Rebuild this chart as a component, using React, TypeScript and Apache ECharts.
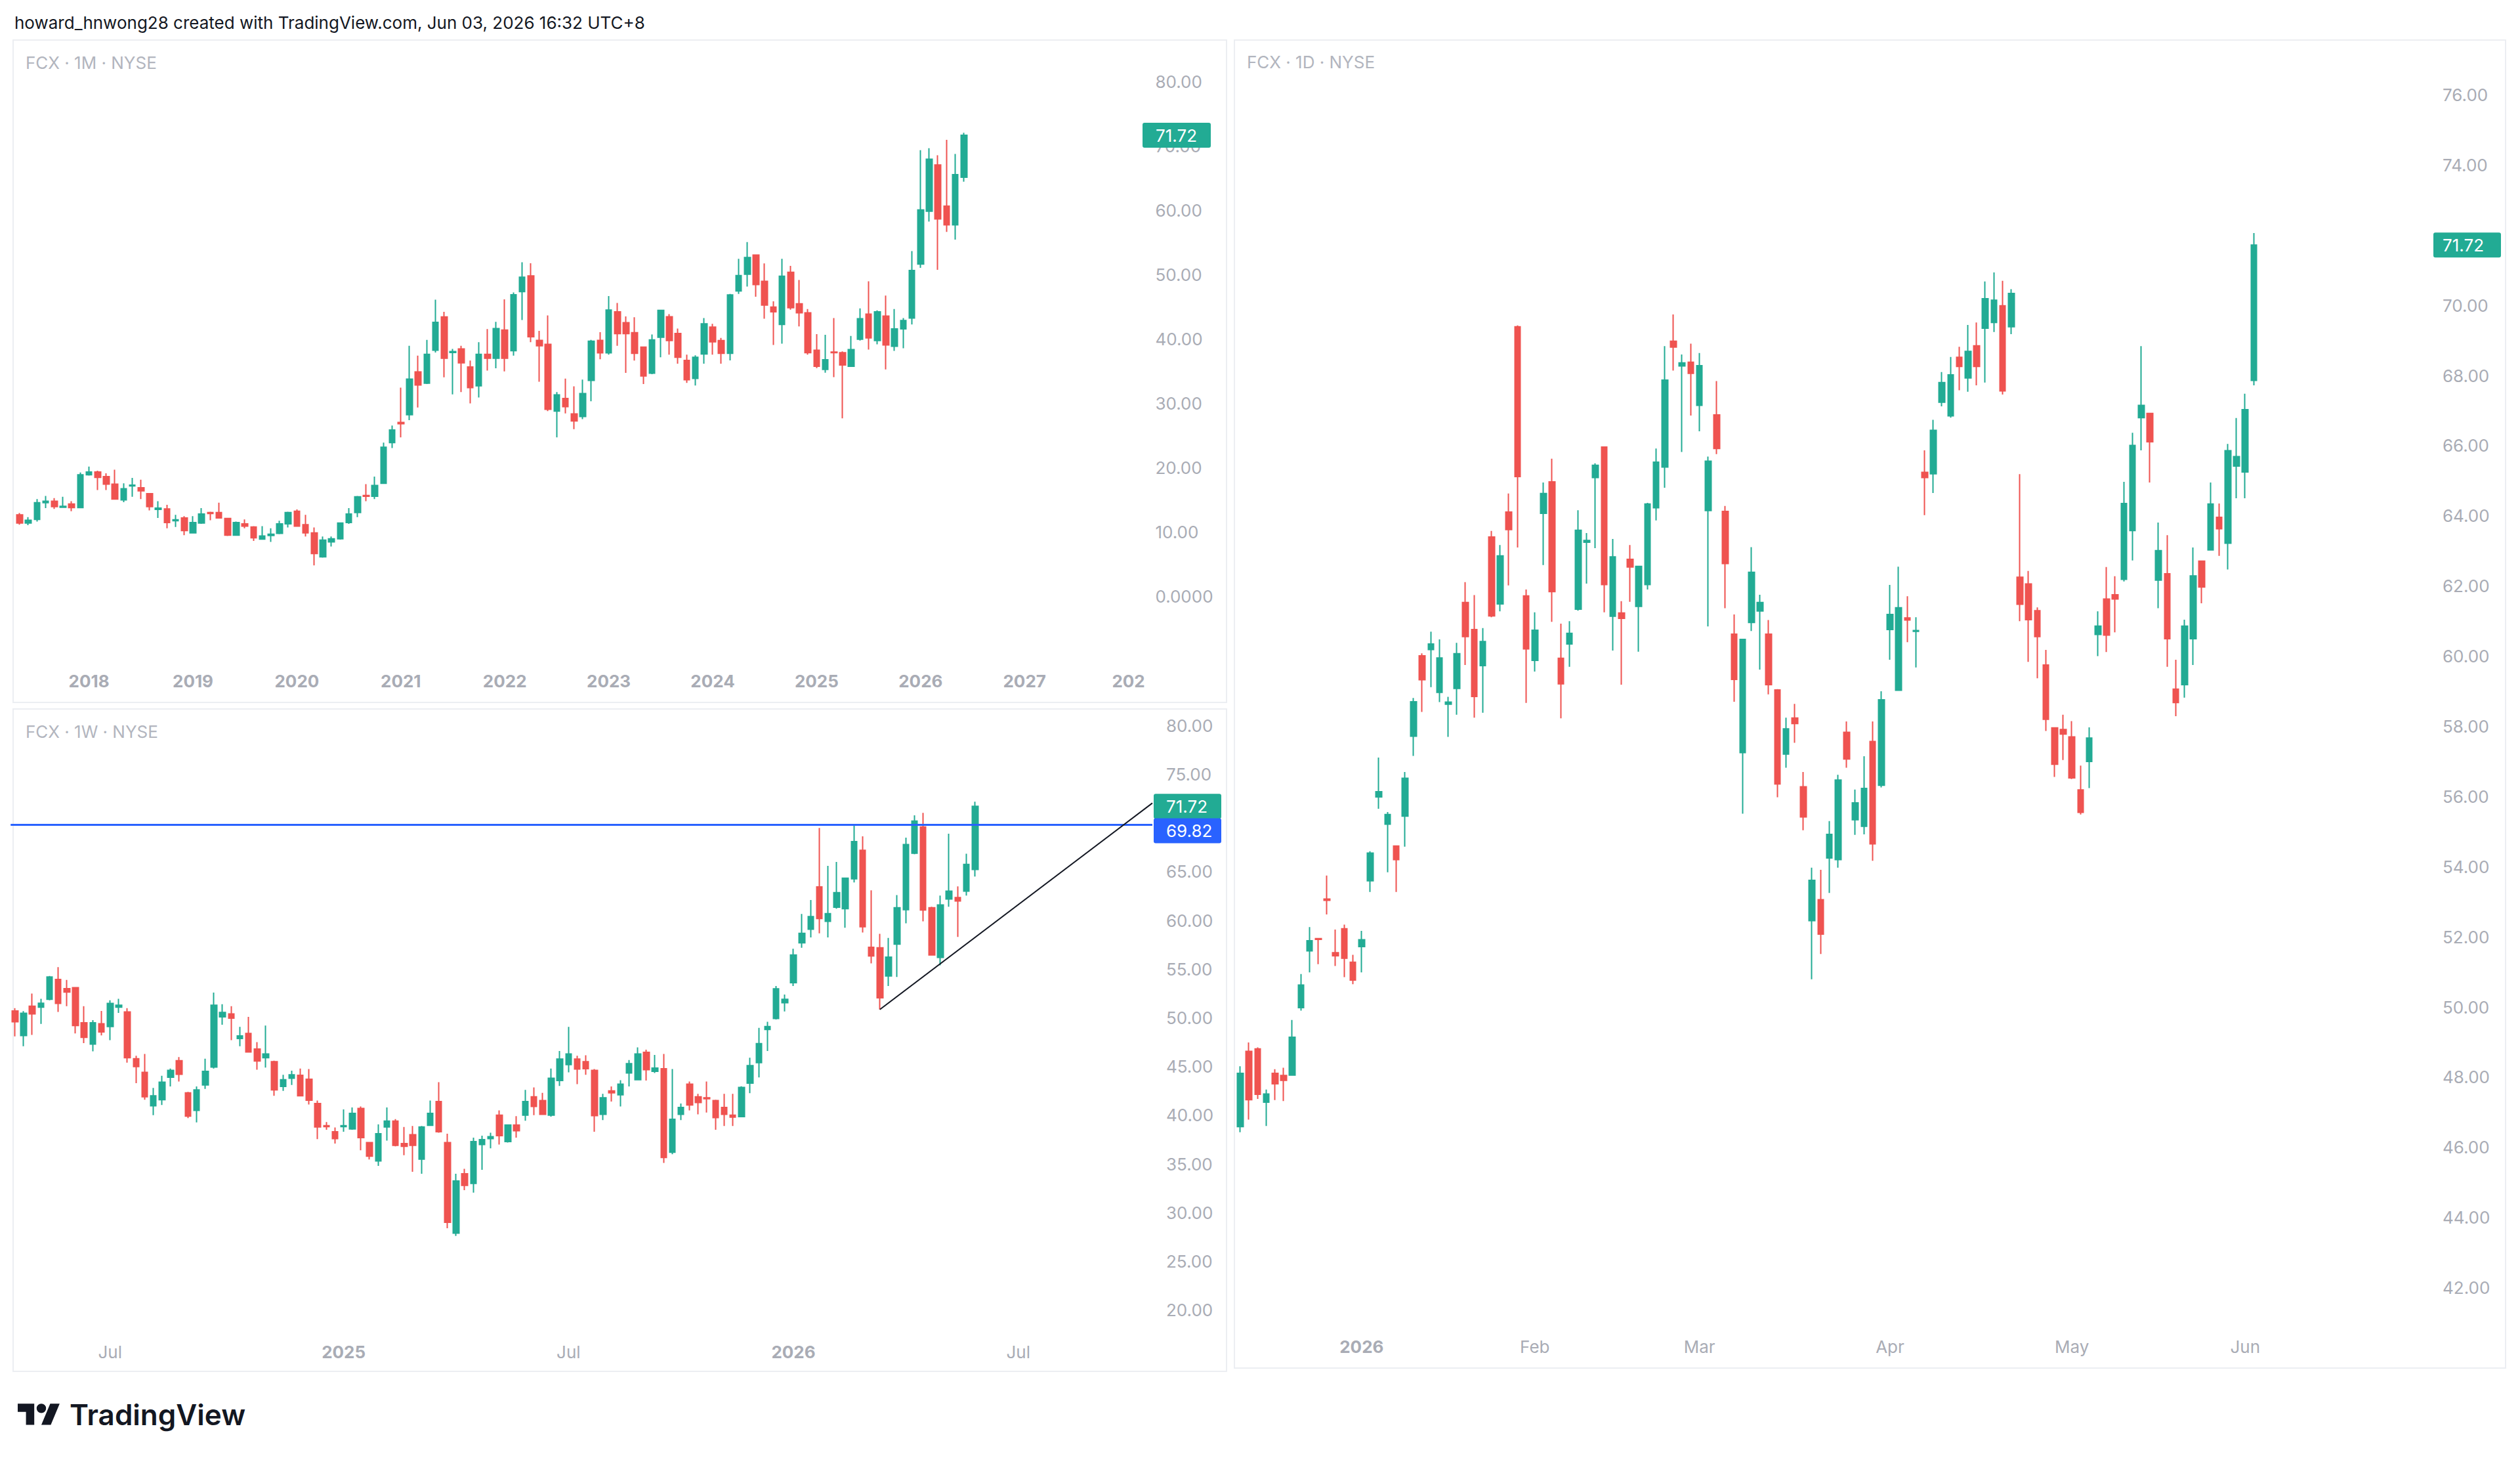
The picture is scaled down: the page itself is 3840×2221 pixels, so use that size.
import React, { useEffect, useRef } from "react";
import * as echarts from "echarts";

// ---------- DATA ----------
// candles: [open, close, low, high]
const monthlyCandles = [
  [12.69, 11.43, 11.15, 12.97], [11.43, 11.85, 11.08, 12.34], [11.99, 14.59, 11.64, 15.15], [14.59, 14.8, 13.74, 15.64],
  [14.8, 13.96, 13.6, 15.29], [13.88, 14.03, 13.85, 15.5], [14.38, 13.81, 13.25, 14.8], [13.81, 18.93, 13.75, 19.28],
  [18.93, 19.35, 18.79, 20.2], [19.35, 18.51, 16.55, 19.57], [18.65, 17.46, 16.55, 19.14], [17.46, 15.15, 15.1, 19.71],
  [15.01, 16.76, 14.66, 17.6], [17.18, 17.32, 15.5, 18.44], [16.9, 16.41, 15.15, 18.16], [15.99, 13.96, 13.39, 16.05],
  [13.53, 13.74, 12.2, 14.8], [13.6, 11.5, 10.59, 14.24], [11.78, 11.92, 10.8, 12.69], [12.2, 10.24, 9.54, 12.48],
  [9.89, 11.5, 9.82, 12.48], [11.43, 12.83, 11.29, 13.74], [13.04, 12.9, 11.85, 13.18], [13.04, 12.2, 12.15, 14.59],
  [12.13, 9.54, 9.4, 12.2], [9.54, 11.5, 9.5, 11.64], [11.29, 10.94, 10.59, 11.99], [10.8, 9.12, 8.63, 10.94],
  [8.91, 9.4, 8.84, 10.94], [9.47, 9.68, 8.49, 10.59], [9.82, 11.29, 9.68, 11.78], [11.29, 13.04, 10.73, 13.18],
  [13.25, 10.94, 10.87, 13.53], [11.15, 9.89, 9.33, 12.69], [9.89, 6.66, 4.84, 10.73], [6.17, 8.77, 6.03, 9.33],
  [8.49, 8.98, 7.78, 9.33], [8.98, 11.43, 8.84, 11.5], [11.5, 12.83, 11.29, 13.74], [13.04, 15.5, 12.34, 15.64],
  [15.71, 15.57, 14.8, 17.46], [15.57, 17.25, 15.15, 18.65], [17.6, 23.21, 17.53, 23.91], [23.91, 25.88, 23.07, 26.58],
  [27.07, 26.86, 24.75, 32.47], [28.26, 33.8, 27.42, 38.99], [34.92, 32.89, 29.38, 37.45], [33.17, 37.66, 33.03, 39.9],
  [38.29, 42.64, 37.94, 46.14], [43.48, 37.03, 34.08, 44.25], [37.94, 38.08, 31.42, 38.5], [38.5, 36.33, 31.77, 38.99],
  [35.69, 32.47, 30.01, 36.68], [32.75, 37.66, 30.93, 39.55], [37.66, 37.03, 35.13, 41.58], [37.03, 41.65, 35.48, 42.71],
  [41.44, 37.03, 34.99, 46.21], [38.22, 46.91, 37.45, 47.27], [47.41, 49.65, 42.99, 51.96], [49.86, 40.39, 39.55, 51.82],
  [39.83, 38.99, 33.38, 41.3], [39.2, 29.1, 28.82, 43.69], [28.82, 31.35, 24.75, 31.77], [30.79, 29.52, 28.47, 33.87],
  [28.4, 27.28, 26.02, 32.68], [27.98, 31.56, 27.56, 33.73], [33.59, 39.69, 30.36, 39.9], [39.83, 37.87, 36.89, 41.09],
  [37.87, 44.53, 37.59, 46.7], [44.25, 40.88, 38.99, 45.65], [42.57, 40.88, 34.78, 43.55], [41.02, 37.8, 36.68, 43.41],
  [38.78, 34.29, 33.03, 38.85], [34.71, 39.9, 34.57, 40.74], [40.3, 44.5, 37.2, 44.6], [43.5, 39.8, 37.6, 43.9],
  [40.9, 37.2, 36.2, 41.65], [36.7, 33.7, 33.2, 37.6], [33.9, 37.2, 32.8, 37.5], [37.7, 42.4, 36.2, 43.3],
  [41.9, 39.6, 37.6, 42.4], [39.8, 37.8, 36.2, 40.2], [37.8, 46.9, 36.7, 47.05], [47.5, 49.9, 47.05, 52.5],
  [50.1, 52.7, 48.2, 55.1], [53.1, 48.5, 46.6, 53.1], [49.0, 45.3, 43.2, 51.8], [45.0, 44.25, 39.1, 45.9],
  [42.3, 49.8, 39.3, 52.5], [50.4, 44.9, 44.6, 51.4], [45.5, 44.1, 42.0, 49.2], [44.1, 37.9, 37.6, 44.7],
  [38.3, 35.8, 35.5, 40.8], [35.3, 36.8, 34.8, 40.7], [38.0, 37.9, 34.1, 43.3], [37.9, 36.0, 27.7, 38.1],
  [35.8, 38.4, 35.8, 40.5], [40.0, 43.2, 39.8, 44.8], [43.9, 40.2, 38.4, 49.0], [39.8, 44.25, 39.2, 44.5],
  [43.6, 39.1, 35.3, 46.8], [38.9, 41.6, 38.2, 44.7], [41.6, 42.9, 38.6, 43.3], [43.3, 50.7, 42.3, 53.7],
  [51.7, 60.1, 51.1, 69.4], [59.9, 68.0, 58.3, 69.7], [67.1, 58.7, 50.8, 68.6], [60.7, 57.8, 56.7, 71.0],
  [57.8, 65.6, 55.5, 68.8], [65.2, 71.72, 64.5, 72.1],
];

const weeklyCandles = [
  [50.7, 49.6, 48.1, 51.0], [48.18, 50.48, 47.08, 50.69], [51.2, 50.4, 48.25, 52.5], [51.1, 51.5, 49.38, 51.96],
  [51.9, 54.2, 51.8, 54.3], [53.95, 51.48, 50.6, 55.2], [53.0, 52.65, 51.2, 53.9], [53.1, 49.2, 48.4, 53.1],
  [49.5, 48.0, 47.4, 51.2], [47.3, 49.5, 46.56, 49.76], [49.4, 48.55, 48.2, 50.7], [49.1, 51.48, 47.7, 51.8],
  [51.1, 51.3, 50.5, 51.96], [50.6, 45.9, 45.4, 51.0], [45.8, 45.0, 43.3, 46.1], [44.4, 41.9, 41.6, 46.3],
  [40.96, 41.99, 40.0, 42.8], [41.6, 43.4, 41.06, 44.05], [43.9, 44.6, 42.95, 44.8], [45.6, 44.2, 43.46, 45.98],
  [42.3, 39.9, 39.7, 42.4], [40.5, 42.6, 39.27, 42.95], [43.1, 44.5, 42.7, 45.8], [44.95, 51.3, 44.8, 52.6],
  [50.1, 50.55, 49.3, 51.4], [50.4, 49.97, 47.7, 51.2], [47.87, 48.14, 47.08, 49.07], [48.4, 46.5, 46.46, 50.1],
  [46.8, 45.56, 44.67, 47.5], [45.9, 46.3, 44.9, 49.2], [45.5, 42.6, 41.99, 45.6], [42.95, 43.64, 42.5, 44.15],
  [43.8, 44.15, 43.1, 44.57], [44.1, 42.0, 41.95, 44.8], [43.7, 41.54, 41.1, 44.74], [41.2, 38.8, 37.55, 41.5],
  [38.93, 38.82, 38.5, 39.3], [38.3, 37.6, 37.1, 38.75], [38.82, 38.93, 38.3, 40.6], [38.6, 40.2, 38.5, 40.8],
  [40.7, 37.7, 36.4, 40.9], [37.2, 35.8, 35.45, 37.2], [35.3, 38.1, 34.8, 39.06], [38.8, 39.4, 37.4, 40.8],
  [39.4, 36.9, 36.8, 39.6], [37.1, 36.8, 35.9, 38.8], [38.0, 36.9, 34.2, 38.9], [35.5, 38.8, 34.0, 38.9],
  [38.96, 40.2, 38.9, 41.5], [41.4, 38.3, 38.2, 43.4], [37.2, 29.0, 28.4, 38.1], [27.9, 33.25, 27.6, 34.0],
  [34.0, 32.8, 32.3, 34.5], [33.0, 37.3, 32.05, 37.7], [37.0, 37.5, 34.4, 37.9], [37.6, 37.8, 36.6, 38.2],
  [40.0, 37.9, 37.0, 40.5], [37.3, 39.0, 37.2, 39.0], [39.0, 38.4, 37.7, 39.9], [40.0, 41.4, 39.44, 42.6],
  [41.9, 40.9, 40.0, 42.85], [41.5, 40.1, 40.1, 42.3], [40.0, 43.8, 39.86, 44.8], [43.57, 45.77, 43.0, 46.6],
  [45.2, 46.3, 44.4, 49.07], [45.77, 44.74, 43.2, 46.1], [45.5, 44.77, 44.15, 46.15], [44.6, 39.96, 38.3, 44.74],
  [40.1, 41.8, 39.5, 42.2], [42.5, 42.3, 41.4, 42.95], [42.1, 43.2, 40.9, 43.6], [44.33, 45.3, 42.95, 45.67],
  [43.64, 46.3, 43.64, 46.97], [46.46, 44.67, 43.57, 46.73], [44.5, 44.84, 44.33, 46.2], [44.77, 35.66, 35.1, 46.3],
  [36.2, 39.58, 36.0, 44.74], [40.1, 40.8, 39.5, 41.2], [43.2, 41.06, 40.5, 43.46], [41.9, 41.3, 40.1, 42.2],
  [41.8, 41.7, 40.27, 43.46], [41.5, 39.75, 38.5, 41.6], [40.8, 40.1, 38.9, 42.2], [40.0, 39.8, 38.9, 42.2],
  [39.86, 42.85, 39.8, 42.98], [43.3, 45.1, 42.26, 45.9], [45.4, 47.35, 43.88, 48.97], [48.8, 49.1, 46.6, 49.6],
  [49.93, 52.99, 49.83, 53.27], [51.55, 51.9, 50.65, 52.4], [53.6, 56.46, 53.27, 57.1], [57.7, 58.67, 57.2, 60.66],
  [59.1, 60.4, 58.25, 62.1], [63.45, 60.2, 58.67, 69.5], [59.9, 60.7, 58.25, 65.6], [61.35, 62.86, 61.2, 66.0],
  [61.2, 64.34, 59.25, 64.34], [64.27, 68.1, 63.9, 69.77], [67.2, 59.35, 58.77, 68.64], [57.25, 56.36, 55.6, 63.1],
  [57.19, 52.06, 50.86, 58.63], [54.3, 56.23, 53.27, 58.2], [57.56, 61.3, 54.2, 62.6], [61.1, 67.8, 59.7, 68.5],
  [66.9, 70.2, 66.8, 70.8], [69.6, 61.07, 59.9, 71.05], [61.3, 56.46, 56.46, 61.4], [56.2, 61.6, 55.4, 62.55],
  [62.2, 63.0, 61.4, 68.9], [62.35, 62.0, 58.3, 63.5], [63.0, 65.75, 62.55, 66.85], [65.23, 71.72, 64.5, 72.2],
];

const dailyCandles = [
  [46.59, 48.11, 46.43, 48.31], [48.74, 47.36, 46.79, 48.99], [48.81, 47.51, 47.38, 48.85], [47.29, 47.52, 46.61, 47.65],
  [48.11, 47.81, 47.35, 48.23], [48.05, 47.91, 47.32, 48.27], [48.06, 49.14, 48.06, 49.63], [49.98, 50.63, 49.9, 50.94],
  [51.6, 51.89, 50.99, 52.28], [51.95, 51.93, 51.22, 51.95], [53.08, 53.04, 52.64, 53.75], [51.55, 51.46, 51.17, 52.21],
  [52.23, 51.39, 50.85, 52.35], [51.28, 50.77, 50.65, 51.49], [51.72, 51.92, 50.99, 52.17], [53.6, 54.39, 53.28, 54.44],
  [55.99, 56.14, 55.65, 57.11], [55.21, 55.49, 53.84, 55.56], [54.59, 54.2, 53.28, 54.59], [55.44, 56.52, 54.57, 56.7],
  [57.72, 58.7, 57.16, 58.81], [60.01, 59.33, 58.41, 60.08], [60.19, 60.35, 59.12, 60.7], [58.97, 59.95, 58.69, 60.48],
  [58.63, 58.69, 57.7, 58.84], [59.08, 60.07, 58.33, 60.38], [61.53, 60.56, 59.75, 62.11], [60.76, 58.85, 58.25, 61.74],
  [59.73, 60.42, 58.39, 60.8], [63.4, 61.15, 61.11, 63.57], [61.49, 62.86, 61.28, 63.17], [64.11, 63.61, 62.02, 64.64],
  [69.39, 65.12, 63.1, 69.43], [61.72, 60.21, 58.67, 61.9], [59.88, 60.74, 59.56, 61.25], [64.07, 64.64, 62.6, 64.95],
  [64.97, 61.84, 60.98, 65.63], [59.94, 59.21, 58.23, 60.93], [60.35, 60.65, 59.7, 61.0], [61.34, 63.59, 61.3, 64.16],
  [63.25, 63.3, 62.07, 63.51], [65.09, 65.44, 63.08, 65.5], [65.96, 62.04, 61.25, 65.98], [61.14, 62.83, 60.16, 63.34],
  [61.23, 61.08, 59.19, 61.57], [62.76, 62.54, 61.55, 63.17], [61.42, 62.56, 60.13, 62.56], [62.04, 64.34, 61.9, 64.37],
  [64.23, 65.53, 63.87, 65.92], [65.39, 67.87, 64.8, 68.84], [68.98, 68.81, 68.14, 69.74], [68.27, 68.36, 65.82, 68.6],
  [68.38, 68.06, 66.86, 68.91], [67.15, 68.28, 66.41, 68.64], [64.15, 65.56, 60.85, 65.69], [66.88, 65.92, 65.76, 67.84],
  [64.13, 62.64, 61.37, 64.28], [60.63, 59.34, 58.7, 61.19], [57.25, 60.48, 55.51, 60.48], [60.96, 62.39, 60.72, 63.11],
  [61.29, 61.53, 59.62, 61.75], [60.63, 59.19, 58.91, 61.03], [59.04, 56.36, 55.98, 59.06], [57.21, 57.93, 56.82, 58.25],
  [58.24, 58.08, 57.53, 58.64], [56.28, 55.42, 55.04, 56.7], [52.46, 53.61, 50.79, 53.97], [53.06, 52.08, 51.51, 53.91],
  [54.25, 54.92, 53.25, 55.3], [54.2, 56.47, 53.97, 56.62], [57.83, 57.07, 56.82, 58.14], [55.34, 55.82, 54.91, 56.2],
  [55.15, 56.23, 54.92, 57.15], [57.57, 54.65, 54.17, 58.14], [56.32, 58.76, 56.26, 59.0], [60.76, 61.19, 59.9, 62.03],
  [59.03, 61.38, 59.03, 62.55], [61.09, 61.03, 60.4, 61.71], [60.71, 60.73, 59.68, 61.11], [65.24, 65.09, 64.02, 65.87],
  [65.2, 66.44, 64.65, 66.74], [67.24, 67.8, 67.12, 68.1], [66.85, 68.02, 66.8, 68.53], [68.52, 68.26, 67.58, 68.82],
  [67.93, 68.69, 67.54, 69.44], [68.85, 68.26, 67.72, 69.51], [69.35, 70.19, 67.8, 70.68], [69.51, 70.15, 69.24, 70.94],
  [69.99, 67.56, 67.46, 70.7], [69.39, 70.34, 69.18, 70.46], [62.25, 61.48, 61.0, 65.19], [62.06, 61.04, 59.84, 62.43],
  [61.3, 60.56, 59.37, 61.39], [59.75, 58.2, 57.87, 60.18], [57.96, 56.92, 56.56, 57.96], [57.91, 57.78, 57.04, 58.33],
  [57.7, 56.53, 56.5, 58.15], [56.19, 55.55, 55.49, 56.88], [57.0, 57.67, 56.24, 57.97], [60.62, 60.86, 60.0, 61.28],
  [61.63, 60.6, 60.12, 62.54], [61.75, 61.63, 60.68, 62.28], [62.19, 64.35, 62.13, 64.97], [63.58, 66.01, 62.73, 66.37],
  [66.8, 67.15, 65.87, 68.84], [66.92, 66.11, 64.95, 66.92], [62.17, 63.01, 61.37, 63.81], [62.35, 60.5, 59.7, 63.45],
  [59.06, 58.68, 58.29, 59.9], [59.19, 60.86, 58.82, 61.04], [60.5, 62.29, 59.75, 63.1], [62.71, 61.97, 61.51, 62.71],
  [63.03, 64.34, 63.03, 64.95], [63.96, 63.63, 62.86, 64.35], [63.22, 65.86, 62.47, 66.05], [65.42, 65.69, 64.5, 66.79],
  [65.25, 67.03, 64.5, 67.48], [67.86, 71.72, 67.72, 72.06],
];

const lastPrice = 71.72;
const weeklyResistance = 69.82;
const weeklyTrendLine = [[100, 50.86], [131.5, 72.05]];

const monthlyPriceTicks = [0, 10, 20, 30, 40, 50, 60, 70, 80];
const weeklyPriceTicks = [20, 25, 30, 35, 40, 45, 50, 55, 60, 65, 70, 75, 80];
const dailyPriceTicks = [42, 44, 46, 48, 50, 52, 54, 56, 58, 60, 62, 64, 66, 68, 70, 72, 74, 76];
// tick values fully hidden behind the price boxes in the reference
const weeklyHiddenTicks = [70];
const dailyHiddenTicks = [72];

const monthlyTimeTicks = ["2018", "2019", "2020", "2021", "2022", "2023", "2024", "2025", "2026", "2027", "202"];
const weeklyTimeTicks = ["Jul", "2025", "Jul", "2026", "Jul"];
const dailyTimeTicks = ["2026", "Feb", "Mar", "Apr", "May", "Jun"];

const holidays = ["2025-12-25", "2026-01-01", "2026-01-19", "2026-02-16", "2026-04-03", "2026-05-25", "2026-06-19"];

// ---------- categories ----------
function monthCats(y0: number, m0: number, n: number): string[] {
  const out: string[] = [];
  for (let i = 0; i < n; i++) {
    const t = m0 + i;
    const y = y0 + Math.floor(t / 12);
    const m = t % 12;
    out.push(`${y}-${String(m + 1).padStart(2, "0")}`);
  }
  return out;
}
function weekCats(start: string, n: number): string[] {
  const out: string[] = [];
  const d = new Date(start + "T00:00:00Z");
  for (let i = 0; i < n; i++) {
    out.push(d.toISOString().slice(0, 10));
    d.setUTCDate(d.getUTCDate() + 7);
  }
  return out;
}
function tradingCats(start: string, n: number): string[] {
  const out: string[] = [];
  const d = new Date(start + "T00:00:00Z");
  while (out.length < n) {
    const s = d.toISOString().slice(0, 10);
    const wd = d.getUTCDay();
    if (wd !== 0 && wd !== 6 && !holidays.includes(s)) out.push(s);
    d.setUTCDate(d.getUTCDate() + 1);
  }
  return out;
}
function placeTicks(cats: string[], ticks: string[], test: (month: number) => boolean): string[] {
  const labels = cats.map(() => "");
  let k = 0;
  for (let i = 1; i < cats.length && k < ticks.length; i++) {
    const m = Number(cats[i].slice(5, 7));
    const pm = Number(cats[i - 1].slice(5, 7));
    if (m !== pm && test(m)) {
      labels[i] = ticks[k++];
    }
  }
  return labels;
}

const monthlyCats = monthCats(2017, 4, 130);
const weeklyCats = weekCats("2024-04-15", 132);
const dailyCats = tradingCats("2025-12-11", 138);

const monthlyLabels = placeTicks(monthlyCats, monthlyTimeTicks, (m) => m === 1);
const weeklyLabels = placeTicks(weeklyCats, weeklyTimeTicks, (m) => m === 1 || m === 7);
const dailyLabels = placeTicks(dailyCats, dailyTimeTicks, () => true);

// ---------- styling ----------
const FONT = "Inter, 'Noto Sans', sans-serif";
const UP = "#22ab94";
const DOWN = "#ef5350";
const AXIS_TEXT = "#a9acb5";

function timeAxis(gridIndex: number, data: string[], labels: string[], margin: number) {
  return {
    type: "category",
    gridIndex,
    data,
    boundaryGap: true,
    axisLine: { show: false },
    axisTick: { show: false },
    splitLine: { show: false },
    axisLabel: {
      margin,
      interval: (i: number) => labels[i] !== "",
      formatter: (_v: string, i: number) => {
        const t = labels[i];
        if (!t) return "";
        return /^\d+$/.test(t) ? `{b|${t}}` : `{m|${t}}`;
      },
      rich: {
        b: { fontSize: 26, fontWeight: "bold", color: AXIS_TEXT, fontFamily: FONT },
        m: { fontSize: 26, fontWeight: "normal", color: AXIS_TEXT, fontFamily: FONT },
      },
    },
  };
}

function priceAxis(gridIndex: number, ticks: number[], margin: number, fmt: (v: number) => string) {
  return {
    type: "value",
    gridIndex,
    position: "right",
    min: ticks[0],
    max: ticks[ticks.length - 1],
    interval: ticks[1] - ticks[0],
    axisLine: { show: false },
    axisTick: { show: false },
    splitLine: { show: false },
    axisLabel: { margin, color: AXIS_TEXT, fontSize: 26, fontFamily: FONT, formatter: fmt },
  };
}

function candles(idx: number, data: number[][], extra: any = {}) {
  return {
    type: "candlestick",
    xAxisIndex: idx,
    yAxisIndex: idx,
    data,
    barWidth: 9,
    silent: true,
    itemStyle: { color: UP, color0: DOWN, borderColor: UP, borderColor0: DOWN, borderWidth: 2 },
    ...extra,
  };
}

export default function App() {
  const ref = useRef<HTMLDivElement>(null);

  useEffect(() => {
    document.body.style.margin = "0";
    const chart = echarts.init(ref.current!, null, { renderer: "svg" });

    echarts.graphic.registerShape(
      "tvlogo",
      echarts.graphic.extendPath(
        "M14 22H7V11H0V4h14v18zM28 22h-8l7.5-18h8L28 22zM24 8a4 4 0 1 1-8 0a4 4 0 1 1 8 0z",
        {}
      )
    );

    chart.setOption({
      animation: false,
      backgroundColor: "#ffffff",
      textStyle: { fontFamily: FONT },
      grid: [
        { left: 23.4, top: 124.9, width: 130 * 13.2, height: 783.7 },
        { left: 16.2, top: 1105.4, width: 132 * 13.18, height: 890.2 },
        { left: 1883.4, top: 144.5, width: 138 * 13.2, height: 1817.1 },
      ],
      xAxis: [
        timeAxis(0, monthlyCats, monthlyLabels, 116),
        timeAxis(1, weeklyCats, weeklyLabels, 51),
        timeAxis(2, dailyCats, dailyLabels, 77),
        { type: "value", gridIndex: 1, min: -0.5, max: 131.5, show: false },
      ],
      yAxis: [
        priceAxis(0, monthlyPriceTicks, 21, (v) => (v === 0 ? "0.0000" : v.toFixed(2))),
        priceAxis(1, weeklyPriceTicks, 21, (v) => (weeklyHiddenTicks.includes(v) ? "" : v.toFixed(2))),
        priceAxis(2, dailyPriceTicks, 17, (v) => (dailyHiddenTicks.includes(v) ? "" : v.toFixed(2))),
      ],
      series: [
        candles(0, monthlyCandles),
        candles(1, weeklyCandles, {
          markLine: {
            silent: true,
            symbol: "none",
            label: { show: false },
            lineStyle: { color: "#2962ff", width: 3, type: "solid" },
            data: [{ yAxis: weeklyResistance }],
          },
        }),
        candles(2, dailyCandles),
        {
          type: "line",
          xAxisIndex: 3,
          yAxisIndex: 1,
          data: weeklyTrendLine,
          symbol: "none",
          silent: true,
          lineStyle: { color: "#131722", width: 2 },
          z: 5,
        },
      ],
    });

    const py = (axis: number, v: number) => chart.convertToPixel({ yAxisIndex: axis }, v) as number;

    const box = (x: number, cy: number, w: number, color: string, text: string, tx: number) => [
      { type: "rect", z: 100, shape: { x, y: cy - 19, width: w, height: 38, r: 3 }, style: { fill: color } },
      {
        type: "text",
        z: 101,
        x: tx,
        y: cy,
        style: {
          text,
          fill: "#ffffff",
          fontSize: 26,
          fontFamily: FONT,
          verticalAlign: "middle",
          textVerticalAlign: "middle",
        },
      },
    ];

    const label = (x: number, y: number, text: string, size: number, color: string, weight = "normal") => ({
      type: "text",
      z: 50,
      x,
      y,
      style: {
        text,
        fill: color,
        fontSize: size,
        fontWeight: weight,
        fontFamily: FONT,
        verticalAlign: "middle",
        textVerticalAlign: "middle",
      },
    });

    const panel = (x: number, y: number, w: number, h: number) => ({
      type: "rect",
      z: -10,
      shape: { x, y, width: w, height: h },
      style: { fill: "none", stroke: "#eceef2", lineWidth: 2 },
    });

    chart.setOption({
      graphic: [
        panel(20, 61, 1849, 1009),
        panel(20, 1080, 1849, 1009),
        panel(1881, 61, 1937, 2023),
        label(22, 34, "howard_hnwong28 created with TradingView.com, Jun 03, 2026 16:32 UTC+8", 26, "#131722"),
        label(39, 95, "FCX · 1M · NYSE", 26, "#b2b5be"),
        label(39, 1114, "FCX · 1W · NYSE", 26, "#b2b5be"),
        label(1900, 94, "FCX · 1D · NYSE", 26, "#b2b5be"),
        ...box(1741, py(0, lastPrice), 104, UP, lastPrice.toFixed(2), 1761),
        ...box(1758, py(1, lastPrice), 103, UP, lastPrice.toFixed(2), 1777),
        ...box(1758, py(1, weeklyResistance) + 9, 103, "#2962ff", weeklyResistance.toFixed(2), 1777),
        ...box(3708, py(2, lastPrice), 103, UP, lastPrice.toFixed(2), 3722),
        { type: "tvlogo", z: 50, x: 27, y: 2131, scaleX: 1.8, scaleY: 1.8, style: { fill: "#131722" } },
        label(106, 2155, "TradingView", 44, "#131722", "600"),
      ],
    });

    return () => chart.dispose();
  }, []);

  return <div ref={ref} style={{ width: 3840, height: 2221 }} />;
}
